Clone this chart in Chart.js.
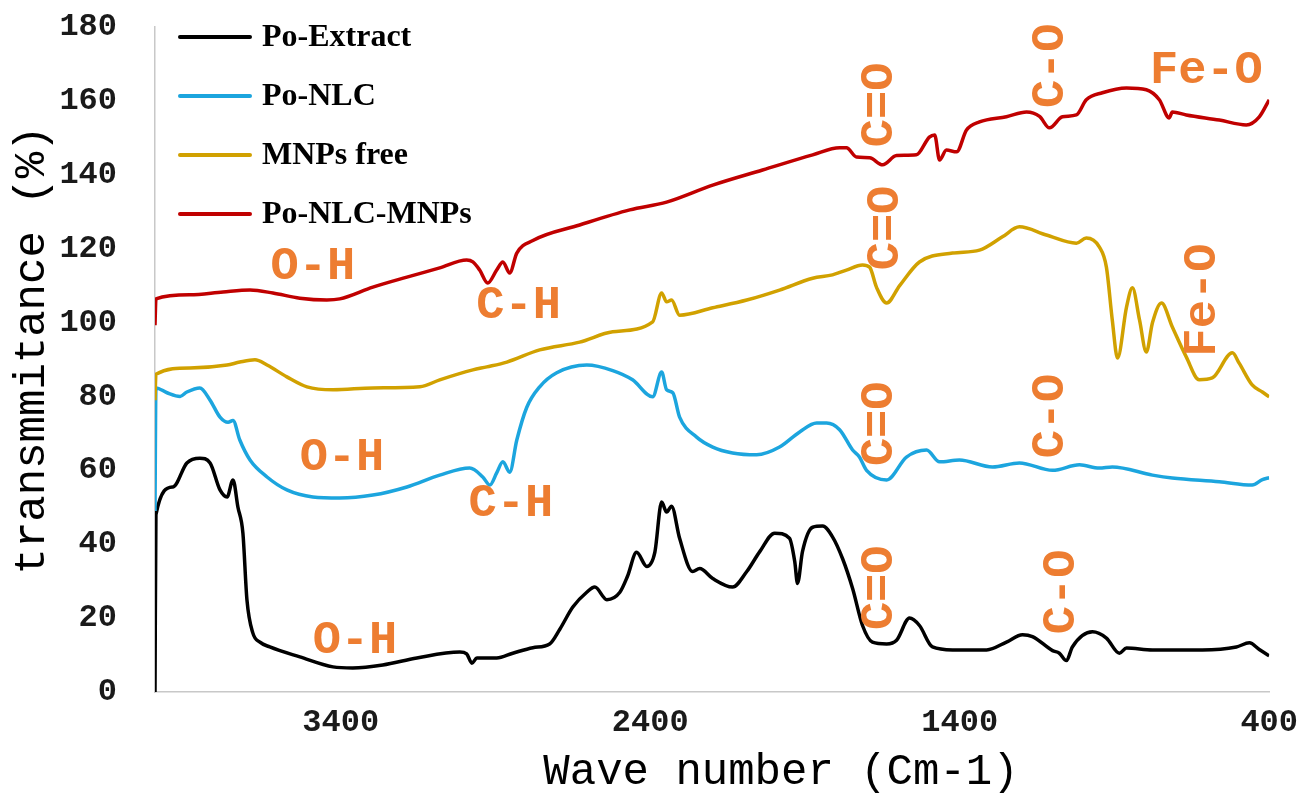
<!DOCTYPE html>
<html>
<head>
<meta charset="utf-8">
<script src="https://cdn.jsdelivr.net/npm/chart.js@4/dist/chart.umd.min.js"></script>
<style>
html,body{margin:0;padding:0;background:#fff;}
#wrap{width:1302px;height:796px;position:relative;}
</style>
</head>
<body>
<div id="wrap"><canvas id="c" width="1302" height="796"></canvas></div>
<script>
// ---- data (wavenumber cm-1, transmittance %) ----
const seriesNames = ["Po-Extract", "Po-NLC", "MNPs free", "Po-NLC-MNPs"];
const xTicks = [3400, 2400, 1400, 400];
const yTicks = [0, 20, 40, 60, 80, 100, 120, 140, 160, 180];

const extractWn = [4000,3997,3942,3897,3855,3822,3790,3767,3748,3732,3716,3703,3684,3661,3629,3532,3425,3361,3264,3154,3015,2993,2976,2960,2896,2844,2779,2725,2692,2650,2605,2579,2540,2498,2473,2444,2411,2385,2363,2347,2331,2305,2263,2240,2198,2134,2088,2046,1998,1950,1933,1924,1908,1875,1843,1811,1778,1746,1714,1682,1636,1604,1562,1530,1488,1423,1313,1249,1197,1165,1100,1078,1055,1036,971,926,884,861,777,616,506,464,432,400];
const extractT  = [0,48,55.5,62,63.3,62,54.7,52.8,57.4,50,43,25,16,13.5,12.2,9.5,6.8,6.5,7.3,9.2,10.8,10.3,7.8,9.2,9.2,10.5,12,13,17,23,27,28.4,25,27,31.4,37.8,34,37.8,51.4,48.7,50.3,41.6,32.6,33.4,30.7,28.4,32.6,38,43,41.6,35.3,29.4,38,44.6,44.9,42,36,28,18,13.5,13,14,20,18,12.2,11.4,11.4,13.5,15.5,15,11.2,10.5,8.5,12.2,16.3,14.6,10.5,11.9,11.4,11.4,12.2,13.3,11.5,9.8];

const nlcWn = [4000,3997,3961,3919,3897,3855,3822,3790,3764,3748,3726,3693,3638,3574,3490,3403,3296,3186,3080,2983,2941,2918,2896,2876,2854,2831,2799,2757,2702,2605,2521,2457,2392,2363,2347,2327,2305,2250,2198,2134,2056,1982,1917,1862,1830,1788,1746,1724,1701,1636,1572,1507,1465,1401,1294,1207,1100,1013,949,907,777,713,561,455,422,400];
const nlcT  = [49,82.3,81,80,81.2,82.3,79,74.4,73,73.5,68.2,62.8,58.2,54.7,52.8,52.5,53.3,55.5,58.7,60.6,58.2,56,59.3,62.3,59.5,68.2,77,82.6,86.4,88.5,87,84.5,79.9,86.6,81.8,81,74.4,69,66.3,64.7,64.2,66.3,70.4,72.8,72.8,71,65.5,63.6,60,57.4,63.6,65.5,62.3,62.8,60.9,62,60,61.5,60.6,60.9,58.7,57.9,56.9,56,57.5,58];

const mnpWn = [4000,3997,3887,3767,3726,3677,3638,3574,3509,3425,3296,3144,3080,2973,2928,2863,2757,2628,2521,2392,2363,2347,2331,2305,2198,2088,1982,1875,1811,1766,1714,1691,1669,1636,1594,1530,1423,1336,1262,1207,1120,1023,991,949,926,907,890,861,842,819,797,777,748,713,668,626,584,519,497,455,422,400];
const mnpT  = [79,86,87.7,88.5,89.3,89.9,88.5,85.3,82.6,81.8,82.3,82.6,84.5,87.2,88,89.3,92.6,94.7,97.5,100.2,108,105.6,106.1,102,104,106.1,108.8,112,112.9,114.2,115.6,115,109.6,105.3,110,116.4,118.8,119.6,123.2,125.9,123.7,121.5,122.9,120.5,115,100.7,90.4,104.2,109.4,100.7,92,100,105.3,98.8,90.7,84.5,85,91.8,89,83.1,81.2,79.9];

const nlcMnpWn = [4000,3997,3887,3780,3693,3619,3532,3445,3403,3296,3186,3080,2993,2973,2951,2925,2896,2876,2854,2831,2779,2628,2466,2347,2198,2037,1875,1788,1766,1733,1691,1649,1604,1540,1498,1481,1465,1443,1410,1378,1336,1249,1184,1142,1110,1068,1023,991,939,861,797,755,723,713,668,561,474,432,400];
const nlcMnpT  = [99.3,106.4,107.5,108.3,108.8,108,106.6,106.1,106.4,109.6,112.3,114.8,116.9,116.4,114.2,110.7,114.2,116.4,113.4,118.8,122.2,126.4,130.5,132.6,137.2,141.3,145.4,147.3,147.3,144.8,144.6,142.7,145.2,145.4,150.2,150.8,144,146.7,146.2,152.1,154.3,155.7,157,155.8,152.7,155.7,156.2,160.3,162.2,163.5,163,160.3,155.4,157,156.2,154.8,153.5,155.7,160.3];

// peak labels: text, wavenumber, transmittance, vertical?
const peakLabels = [
  ["O-H", 3490, 115, false], ["C-H", 2825, 104.5, false],
  ["O-H", 3396, 63.3, false], ["C-H", 2850, 50.9, false],
  ["O-H", 3354, 13.8, false],
  ["C=O", 1656, 158.9, true], ["C-O", 1104, 169.5, true], ["Fe-O", 603, 168.1, false],
  ["C=O", 1636, 125.6, true], ["Fe-O", 613, 106.1, true],
  ["C=O", 1656, 72.6, true], ["C-O", 1104, 74.7, true],
  ["C=O", 1656, 28.2, true], ["C-O", 1068, 27.1, true]
];

const colors = ["#000000", "#1CA5DE", "#D1A100", "#C00000"];
const LABEL_COLOR = "#ED7D31";
const MONO = "'Liberation Mono','Courier New',monospace";
const SERIF = "'Liberation Serif','Times New Roman',serif";

function pairs(xs, ys){ return xs.map((x,i)=>({x:x, y:ys[i]})); }
const allData = [pairs(extractWn, extractT), pairs(nlcWn, nlcT), pairs(mnpWn, mnpT), pairs(nlcMnpWn, nlcMnpT)];

const datasets = seriesNames.map((n,i)=>({
  label:n, data:allData[i], borderColor:colors[i], backgroundColor:colors[i],
  borderWidth:3.5, pointRadius:0, tension:0, cubicInterpolationMode:'monotone', fill:false
})).reverse();

const decor = {
  id:'decor',
  afterDraw(chart){
    const ctx = chart.ctx, xs = chart.scales.x, ys = chart.scales.y;
    // peak labels
    ctx.save();
    ctx.fillStyle = LABEL_COLOR;
    ctx.font = "bold 47px " + MONO;
    ctx.textAlign = 'center'; ctx.textBaseline = 'middle';
    peakLabels.forEach(p=>{
      const px = xs.getPixelForValue(p[1]), py = ys.getPixelForValue(p[2]);
      ctx.save(); ctx.translate(px, py);
      if (p[3]) ctx.rotate(-Math.PI/2);
      ctx.fillText(p[0], 0, 0);
      ctx.restore();
    });
    ctx.restore();
    // legend (top-left inside plot)
    ctx.save();
    const ordered = seriesNames.map(n=>chart.data.datasets.find(d=>d.label===n));
    const lx = chart.chartArea.left + 25, ly0 = chart.chartArea.top + 10;
    ordered.forEach((d,i)=>{
      const y = ly0 + i*59;
      ctx.strokeStyle = d.borderColor; ctx.lineWidth = 4; ctx.lineCap='round';
      ctx.beginPath(); ctx.moveTo(lx, y); ctx.lineTo(lx+70, y); ctx.stroke();
      ctx.fillStyle = '#000'; ctx.font = "bold 32px " + SERIF;
      ctx.textAlign='left'; ctx.textBaseline='middle';
      ctx.fillText(d.label, lx+82, y+1);
    });
    ctx.restore();
    // axis titles
    ctx.save();
    ctx.fillStyle = '#000'; ctx.font = "44px " + MONO;
    ctx.textAlign='center'; ctx.textBaseline='middle';
    ctx.fillText("Wave number (Cm-1)", 781, 772);
    ctx.translate(32, 350); ctx.rotate(-Math.PI/2);
    ctx.fillText("transmmitance (%)", 0, 0);
    ctx.restore();
  }
};

new Chart(document.getElementById('c'), {
  type:'line',
  data:{datasets},
  options:{
    responsive:false, animation:false, maintainAspectRatio:false,
    layout:{padding:{top:27, right:20, left:0, bottom:0}, autoPadding:false},
    plugins:{legend:{display:false}, tooltip:{enabled:false}},
    scales:{
      x:{type:'linear', reverse:true, min:400, max:4000,
        grid:{display:false},
        border:{display:true, color:'#C8C8C8', width:1.5},
        afterBuildTicks(s){ s.ticks = xTicks.map(v=>({value:v})); },
        afterFit(s){ s.height = 104; },
        ticks:{color:'#1a1a1a', padding:4, maxRotation:0, autoSkip:false,
          font:{family:MONO, size:32, weight:'bold'}, callback:v=>String(v)}
      },
      y:{type:'linear', min:0, max:180,
        grid:{display:false},
        border:{display:true, color:'#C8C8C8', width:1.5},
        afterBuildTicks(s){ s.ticks = yTicks.map(v=>({value:v})); },
        afterFit(s){ s.width = 155; s.paddingTop = 0; s.paddingBottom = 0; },
        ticks:{color:'#1a1a1a', padding:30,
          font:{family:MONO, size:32, weight:'bold'}, callback:v=>String(v)}
      }
    }
  },
  plugins:[decor]
});
</script>
</body>
</html>
